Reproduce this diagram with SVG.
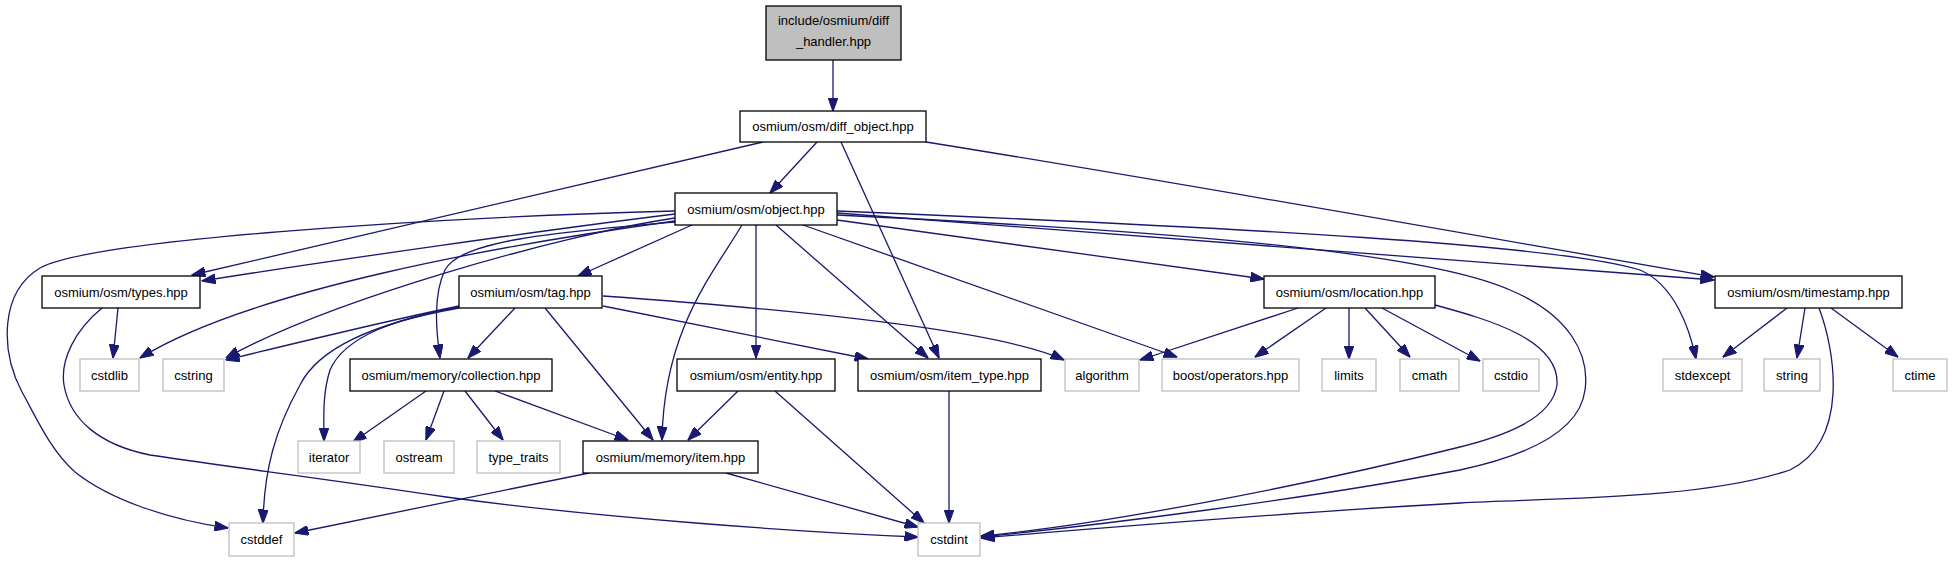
<svg xmlns="http://www.w3.org/2000/svg" width="1952" height="563" viewBox="0 0 1952 563">
<style>
.n rect{fill:#fff;stroke:#000;stroke-width:1.3}
.g rect{fill:#fff;stroke:#bfbfbf;stroke-width:1.3}
.root rect{fill:#bfbfbf;stroke:#000;stroke-width:1.3}
text{font-family:"Liberation Sans",Arial,sans-serif;font-size:13px;fill:#000;text-anchor:middle}
#edges path{fill:none;stroke:#191970;stroke-width:1.3;marker-end:url(#ah)}
</style>
<defs>
<marker id="ah" markerUnits="userSpaceOnUse" markerWidth="14" markerHeight="10" viewBox="0 0 14 10" refX="13.5" refY="5" orient="auto">
<path d="M0,0 L14,5 L0,10 z" fill="#191970" stroke="#191970" stroke-width="1"/>
</marker>
</defs>
<rect width="1952" height="563" fill="#fff"/>
<g id="edges">
<path d="M833,60 L833,111"/>
<path d="M763,142 L192,275"/>
<path d="M817,142 L770,193"/>
<path d="M841,142 L939,358"/>
<path d="M926,142 C1200,186 1500,240 1714,277"/>
<path d="M675,211 C420,218 90,240 40,268 C0,292 0,350 22,392 C35,415 50,450 75,472 C110,500 170,520 228,528"/>
<path d="M675,214 C560,228 320,262 202,281"/>
<path d="M675,218 C560,235 330,300 226,358"/>
<path d="M675,221 C500,245 250,290 140,358"/>
<path d="M675,222 C560,232 460,240 445,270 C433,295 436,330 440,358"/>
<path d="M692,225 L578,276"/>
<path d="M742,225 C712,275 664,330 662,440"/>
<path d="M756,225 L756,358"/>
<path d="M776,225 L928,358"/>
<path d="M803,225 L1177,357"/>
<path d="M837,220 L1264,279"/>
<path d="M837,213 C1200,240 1550,265 1714,280"/>
<path d="M837,211 C1250,228 1560,245 1640,270 C1675,285 1690,330 1696,359"/>
<path d="M837,215 C1150,230 1420,250 1510,290 C1570,315 1590,355 1585,390 C1580,430 1530,455 1460,470 C1300,500 1100,525 981,537"/>
<path d="M118,308 L113,358"/>
<path d="M102,308 C75,330 60,360 64,385 C70,420 100,445 150,455 C250,470 300,475 446,497 C600,518 800,532 918,537"/>
<path d="M459,306 C390,320 300,342 226,360"/>
<path d="M459,307 C400,318 345,335 330,370 C322,395 324,420 324,441"/>
<path d="M459,308 C380,322 320,345 300,385 C275,430 264,470 263,523"/>
<path d="M515,308 L468,358"/>
<path d="M545,308 L653,440"/>
<path d="M603,306 L868,359"/>
<path d="M603,296 C800,310 1000,330 1064,360"/>
<path d="M426,391 L353,442"/>
<path d="M444,391 L426,440"/>
<path d="M465,391 L503,440"/>
<path d="M495,391 L628,440"/>
<path d="M738,391 L688,440"/>
<path d="M775,391 L924,523"/>
<path d="M949,391 L949,523"/>
<path d="M589,473 L295,533"/>
<path d="M726,473 L918,527"/>
<path d="M1298,308 L1140,360"/>
<path d="M1326,308 L1255,357"/>
<path d="M1349,308 L1349,359"/>
<path d="M1365,308 L1410,357"/>
<path d="M1382,308 L1480,361"/>
<path d="M1435,305 C1490,320 1560,340 1557,385 C1552,420 1500,437 1460,447 C1300,487 1100,525 981,536"/>
<path d="M1787,308 L1723,357"/>
<path d="M1805,308 L1797,358"/>
<path d="M1831,308 L1898,357"/>
<path d="M1819,308 C1835,350 1850,440 1790,470 C1700,500 1550,498 1460,503 C1300,512 1100,528 981,538"/>
</g>
<g id="diff_handler" class="root"><rect x="766" y="6" width="135" height="54"/><text x="833.5" y="24.5">include/osmium/diff</text><text x="833.5" y="45.5">_handler.hpp</text></g>
<g id="diff_object" class="n"><rect x="740" y="111" width="186" height="31"/><text x="833" y="131">osmium/osm/diff_object.hpp</text></g>
<g id="object" class="n"><rect x="675" y="193" width="162" height="32"/><text x="756" y="213.5">osmium/osm/object.hpp</text></g>
<g id="types" class="n"><rect x="42" y="276" width="158" height="32"/><text x="121" y="296.5">osmium/osm/types.hpp</text></g>
<g id="tag" class="n"><rect x="459" y="276" width="143" height="32"/><text x="530.5" y="296.5">osmium/osm/tag.hpp</text></g>
<g id="location" class="n"><rect x="1264" y="276" width="171" height="32"/><text x="1349.5" y="296.5">osmium/osm/location.hpp</text></g>
<g id="timestamp" class="n"><rect x="1715" y="276" width="187" height="32"/><text x="1808.5" y="296.5">osmium/osm/timestamp.hpp</text></g>
<g id="cstdlib" class="g"><rect x="80" y="359" width="59" height="32"/><text x="109.5" y="379.5">cstdlib</text></g>
<g id="cstring" class="g"><rect x="163" y="359" width="61" height="32"/><text x="193.5" y="379.5">cstring</text></g>
<g id="collection" class="n"><rect x="350" y="359" width="202" height="32"/><text x="451" y="379.5">osmium/memory/collection.hpp</text></g>
<g id="entity" class="n"><rect x="677" y="359" width="158" height="32"/><text x="756" y="379.5">osmium/osm/entity.hpp</text></g>
<g id="item_type" class="n"><rect x="858" y="359" width="183" height="32"/><text x="949.5" y="379.5">osmium/osm/item_type.hpp</text></g>
<g id="algorithm" class="g"><rect x="1065" y="359" width="74" height="32"/><text x="1102" y="379.5">algorithm</text></g>
<g id="boost_operators" class="g"><rect x="1162" y="359" width="137" height="32"/><text x="1230.5" y="379.5">boost/operators.hpp</text></g>
<g id="limits" class="g"><rect x="1322" y="359" width="54" height="32"/><text x="1349" y="379.5">limits</text></g>
<g id="cmath" class="g"><rect x="1400" y="359" width="59" height="32"/><text x="1429.5" y="379.5">cmath</text></g>
<g id="cstdio" class="g"><rect x="1483" y="359" width="56" height="32"/><text x="1511" y="379.5">cstdio</text></g>
<g id="stdexcept" class="g"><rect x="1663" y="359" width="79" height="32"/><text x="1702.5" y="379.5">stdexcept</text></g>
<g id="string" class="g"><rect x="1764" y="359" width="56" height="32"/><text x="1792" y="379.5">string</text></g>
<g id="ctime" class="g"><rect x="1893" y="359" width="54" height="32"/><text x="1920" y="379.5">ctime</text></g>
<g id="iterator" class="g"><rect x="298" y="441" width="62" height="32"/><text x="329" y="461.5">iterator</text></g>
<g id="ostream" class="g"><rect x="384" y="441" width="70" height="32"/><text x="419" y="461.5">ostream</text></g>
<g id="type_traits" class="g"><rect x="477" y="441" width="83" height="32"/><text x="518.5" y="461.5">type_traits</text></g>
<g id="memory_item" class="n"><rect x="583" y="441" width="175" height="32"/><text x="670.5" y="461.5">osmium/memory/item.hpp</text></g>
<g id="cstddef" class="g"><rect x="229" y="523" width="65" height="33"/><text x="261.5" y="544">cstddef</text></g>
<g id="cstdint" class="g"><rect x="918" y="523" width="62" height="33"/><text x="949" y="544">cstdint</text></g>
</svg>
